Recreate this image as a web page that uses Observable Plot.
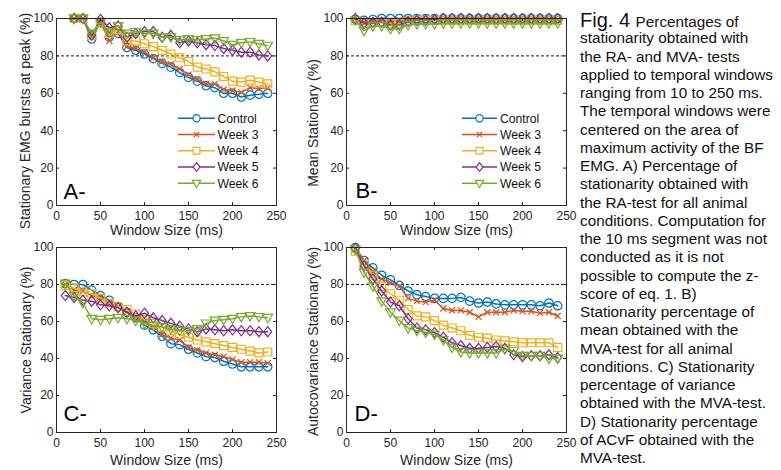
<!DOCTYPE html>
<html>
<head>
<meta charset="utf-8">
<script src="https://cdn.jsdelivr.net/npm/d3@7"></script>
<script src="https://cdn.jsdelivr.net/npm/@observablehq/plot@0.6"></script>
<style>
  html, body { margin: 0; padding: 0; background: #fff; }
  #root { position: relative; width: 781px; height: 470px; overflow: hidden; background: #fff; font-family: "Liberation Sans", Arial, sans-serif; }
  .panel { position: absolute; }
  #overlay { position: absolute; left: 0; top: 0; pointer-events: none; }
  #caption { position: absolute; left: 580px; top: 11px; width: 200px; color: #111; font-family: "Liberation Sans", Arial, sans-serif; font-size: 15.3px; }
  #caption div { height: 18.25px; line-height: 18.25px; white-space: nowrap; }
  #caption .fig { font-size: 20px; }
</style>
</head>
<body>
<div id="root">
  <div class="panel" id="pA" style="left:0;top:0"></div>
  <div class="panel" id="pB" style="left:290px;top:0"></div>
  <div class="panel" id="pC" style="left:0;top:230px"></div>
  <div class="panel" id="pD" style="left:290px;top:230px"></div>
  <svg id="overlay" width="781" height="470"></svg>
  <div id="caption"></div>
</div>
<script>
// ---------- data ----------
const seriesNames = ["Control", "Week 3", "Week 4", "Week 5", "Week 6"];
const seriesColors = ["#0072BD", "#D95319", "#EDB120", "#7E2F8E", "#77AC30"];

const windowA = [20,30,40,50,60,70,80,90,100,110,120,130,140,150,160,170,180,190,200,210,220,230,240];
const windowBCD = [10,20,30,40,50,60,70,80,90,100,110,120,130,140,150,160,170,180,190,200,210,220,230,240];

const xTicks = [0, 50, 100, 150, 200, 250];
const yTicks = [0, 20, 40, 60, 80, 100];
const thresholdLine = [80];

// A) RA-test
const aControl = [100,100,89,98,90,92,84.5,83,81,78.5,76,74,71,68.5,66.5,64,63,60,60,58,59,59.5,60];
const aWeek3   = [100,100,90,98,88,93,85,84,82,79,77,75.5,73,70,67.5,65,65,62,61.5,60.5,63,62.5,63];
const aWeek4   = [100,100,91,98,92,94,88,88,86.5,85,83,81,79,77,74,73,71.5,69,66.5,66,67,66,65];
const aWeek5   = [100,100,91,99.5,95,96,90,92,93,93,90,91,87,88,87,86,85.5,84,83,82,82,80.5,80];
const aWeek6   = [100,100,92,98,93,96,92,93,92,92,90,90,88.5,89,88.5,89,89.5,88,86,87,87.5,86.5,85.5];

// B) Mean (MVA-test)
const bControl = [99.5,99,99.5,100,100,100,100,100,100,100,100,100,100,100,100,100,100,100,100,100,100,100,100,100];
const bWeek3   = [100,98.5,98.5,99,98.5,99,99.5,99.5,99.5,100,99.5,99.5,99.5,99.5,99.5,99.5,99.5,99.5,99.5,99.5,99.5,99.5,99.5,99.5];
const bWeek4   = [99,97,98,98,97.5,97.5,98.5,99,99,99,99,99,99,99,99,99,99,99,99,99,99,99,99,99];
const bWeek5   = [100,97.5,98,98,96.5,96.5,98.5,99,99,99.5,100,100,100,100,100,100,100,100,100,100,100,100,100,100];
const bWeek6   = [99,93.5,96,96,94.5,94.5,96.5,97,97,97,97.5,97.5,97.5,97.5,97.5,97.5,97.5,97.5,97.5,97.5,97.5,97.5,97.5,97.5];

// C) Variance (MVA-test)
const cControl = [80.5,80,80,77,74,71.5,68,65,62,58,55.5,52,48,47.5,45,43,41,40.5,38.5,37,35.5,35.5,35.5,35.5];
const cWeek3   = [80,77,76.5,74,73,70,68,65,62,60,57,53,51,50,46,44.5,43,42,41,39.5,38,38,38,37.5];
const cWeek4   = [79.5,78,76,75,72.5,70,68,66.5,64,61,59,57,55,53,51.5,50,49,48,47,46,45,44,43,43.5];
const cWeek5   = [74,73,71.5,71,69,68.5,67.5,65,63,64.5,62,60.5,59,57.5,56,54.5,56,55.5,55,55.5,55,55,54.5,54.5];
const cWeek6   = [80.5,74,70,61.5,61,61.5,62,61.5,60.5,59,57.8,57,56,55,55,56,59,60.5,61,61.5,62.5,63,62.5,62];

// D) Autocovariance (MVA-test)
const dControl = [100,93,89,85,82.5,79.5,76.5,74.5,73.5,72.5,72.5,72.5,73,71,70,70.5,69.5,69,69,69,69,68.5,70,68.5];
const dWeek3   = [99,93,87,83,81,79,72.5,71,70.5,71.5,67,66,66,65,62.5,65,65,65,66,65.5,65.5,64.5,65,63];
const dWeek4   = [98,91,85,79,75,71.5,66.5,63,62.5,60.5,58,56.5,55,52.5,51.5,51,50,49.5,49,48.5,48.5,48.5,48.5,46];
const dWeek5   = [99.5,90,83,76.5,70.5,68.5,61.5,56.5,55.5,54,51.5,48.5,47,45.5,45.5,46,46.5,45.5,42,41,41.5,41.5,42,40.5];
const dWeek6   = [99,86.5,79,71,65,60.5,56.5,55,54,53,50,46,43.5,43,43,43,43,45,44,41.5,41.5,41.5,40,40];

const xLabel = "Window Size (ms)";
const captionLines = [
  "Percentages of",
  "stationarity obtained with",
  "the RA- and MVA- tests",
  "applied to temporal windows",
  "ranging from 10 to 250 ms.",
  "The temporal windows were",
  "centered on the area of",
  "maximum activity of the BF",
  "EMG. A) Percentage of",
  "stationarity obtained with",
  "the RA-test for all animal",
  "conditions. Computation for",
  "the 10 ms segment was not",
  "conducted as it is not",
  "possible to compute the z-",
  "score of eq. 1. B)",
  "Stationarity percentage of",
  "mean obtained with the",
  "MVA-test for all animal",
  "conditions. C) Stationarity",
  "percentage of variance",
  "obtained with the MVA-test.",
  "D) Stationarity percentage",
  "of ACvF obtained with the",
  "MVA-test."
];

// ---------- MATLAB-like marker symbols ----------
const rad = (size) => Math.sqrt(size / Math.PI);
const symCircle = {draw(c, size) { const s = rad(size); c.moveTo(s, 0); c.arc(0, 0, s, 0, 2 * Math.PI); }};
const symTimes = {draw(c, size) { const s = rad(size) * 0.72; c.moveTo(-s, -s); c.lineTo(s, s); c.moveTo(s, -s); c.lineTo(-s, s); }};
const symSquare = {draw(c, size) { const s = rad(size) * 0.95; c.moveTo(-s, -s); c.lineTo(s, -s); c.lineTo(s, s); c.lineTo(-s, s); c.closePath(); }};
const symDiamond = {draw(c, size) { const s = rad(size); c.moveTo(0, -1.2 * s); c.lineTo(0.95 * s, 0); c.lineTo(0, 1.2 * s); c.lineTo(-0.95 * s, 0); c.closePath(); }};
const symTriDown = {draw(c, size) { const s = rad(size); c.moveTo(-1.15 * s, -0.8 * s); c.lineTo(1.15 * s, -0.8 * s); c.lineTo(0, 1.2 * s); c.closePath(); }};
const seriesSymbols = [symCircle, symTimes, symSquare, symDiamond, symTriDown];
const markerR = 4.2;
const legendMarkerR = 3.6;

// ---------- panel builder ----------
function panel({xs, values, ylabel, letter, top, ylabelDx, ylabelDy, letterDx, letterDy, xlabelDy}) {
  const W = 290, H = 240;
  const mL = 56, mR = 14, mT = top ? 18 : 17, mB = top ? 35 : 38;
  const innerW = W - mL - mR, innerH = H - mT - mB;
  const marks = [
    Plot.ruleY(thresholdLine, {y: d => d, stroke: "#000", strokeWidth: 0.9, strokeDasharray: "3,2"})
  ];
  values.forEach((vals, k) => {
    const data = vals.map((v, i) => ({x: xs[i], y: v}));
    marks.push(Plot.line(data, {x: "x", y: "y", stroke: seriesColors[k], strokeWidth: 1.5}));
    marks.push(Plot.dot(data, {x: "x", y: "y", symbol: seriesSymbols[k], r: markerR, stroke: seriesColors[k], fill: "none", strokeWidth: 1.2}));
  });
  marks.push(
    Plot.frame({stroke: "#262626", strokeWidth: 1}),
    Plot.tickX(xTicks, {x: d => d, insetTop: innerH - 3, stroke: "#262626"}),
    Plot.tickX(xTicks, {x: d => d, insetBottom: innerH - 3, stroke: "#262626"}),
    Plot.tickY(yTicks, {y: d => d, insetRight: innerW - 3, stroke: "#262626"}),
    Plot.tickY(yTicks, {y: d => d, insetLeft: innerW - 3, stroke: "#262626"}),
    Plot.axisX(xTicks, {tickSize: 0, tickPadding: 6, label: null, tickFormat: d => String(d)}),
    Plot.axisY(yTicks, {tickSize: 0, tickPadding: 3, label: null, tickFormat: d => String(d)}),
    Plot.text([xLabel], {text: d => d, frameAnchor: "bottom", textAnchor: "middle", lineAnchor: "middle", dy: xlabelDy, fontSize: 14}),
    Plot.text([ylabel], {text: d => d, frameAnchor: "left", textAnchor: "middle", lineAnchor: "middle", rotate: -90, dx: ylabelDx, dy: ylabelDy, fontSize: 14}),
    Plot.text([letter], {text: d => d, frameAnchor: "bottom-left", textAnchor: "start", lineAnchor: "bottom", dx: letterDx, dy: letterDy, fontSize: 22, fill: "#000"})
  );
  return Plot.plot({
    width: W, height: H,
    marginLeft: mL, marginRight: mR, marginTop: mT, marginBottom: mB,
    x: {domain: [0, 250]},
    y: {domain: [0, 100]},
    style: {fontFamily: "'Liberation Sans', Arial, sans-serif", fontSize: "12px", color: "#262626", background: "transparent", overflow: "visible"},
    marks
  });
}

document.getElementById("pA").append(panel({
  xs: windowA, values: [aControl, aWeek3, aWeek4, aWeek5, aWeek6],
  ylabel: "Stationary EMG bursts at peak (%)", letter: "A-", top: true,
  ylabelDx: -31, ylabelDy: 9, letterDx: 7, letterDy: -7, xlabelDy: 25
}));
document.getElementById("pB").append(panel({
  xs: windowBCD, values: [bControl, bWeek3, bWeek4, bWeek5, bWeek6],
  ylabel: "Mean Stationary (%)", letter: "B-", top: true,
  ylabelDx: -33, ylabelDy: 11, letterDx: 9, letterDy: -8, xlabelDy: 25
}));
document.getElementById("pC").append(panel({
  xs: windowBCD, values: [cControl, cWeek3, cWeek4, cWeek5, cWeek6],
  ylabel: "Variance Stationary (%)", letter: "C-", top: false,
  ylabelDx: -30, ylabelDy: 0, letterDx: 7, letterDy: -12, xlabelDy: 28
}));
document.getElementById("pD").append(panel({
  xs: windowBCD, values: [dControl, dWeek3, dWeek4, dWeek5, dWeek6],
  ylabel: "Autocovariance Stationary (%)", letter: "D-", top: false,
  ylabelDx: -33, ylabelDy: 1.5, letterDx: 8, letterDy: -12, xlabelDy: 28
}));

// ---------- legends (panels A and B) ----------
const overlay = d3.select("#overlay");
function legend(x0, x1, textX, y0, pitch) {
  seriesNames.forEach((name, k) => {
    const y = y0 + k * pitch;
    overlay.append("line").attr("x1", x0).attr("x2", x1).attr("y1", y).attr("y2", y)
      .attr("stroke", seriesColors[k]).attr("stroke-width", 1.5);
    const p = d3.path();
    seriesSymbols[k].draw(p, legendMarkerR * legendMarkerR * Math.PI);
    overlay.append("path").attr("d", p.toString()).attr("transform", `translate(${(x0 + x1) / 2},${y})`)
      .attr("fill", "#fff").attr("stroke", seriesColors[k]).attr("stroke-width", 1.2);
    overlay.append("text").attr("x", textX).attr("y", y).attr("dy", "0.36em")
      .attr("font-family", "'Liberation Sans', Arial, sans-serif").attr("font-size", 12.2)
      .attr("fill", "#111").text(name);
  });
}
legend(178, 215, 217.5, 118.3, 16.25);
legend(462, 497, 500, 118.3, 16.25);

// ---------- caption ----------
const cap = d3.select("#caption");
captionLines.forEach((line, i) => {
  const div = cap.append("div");
  if (i === 0) {
    div.append("span").attr("class", "fig").text("Fig. 4 ");
  }
  div.append("span").text(line);
});
</script>
</body>
</html>
